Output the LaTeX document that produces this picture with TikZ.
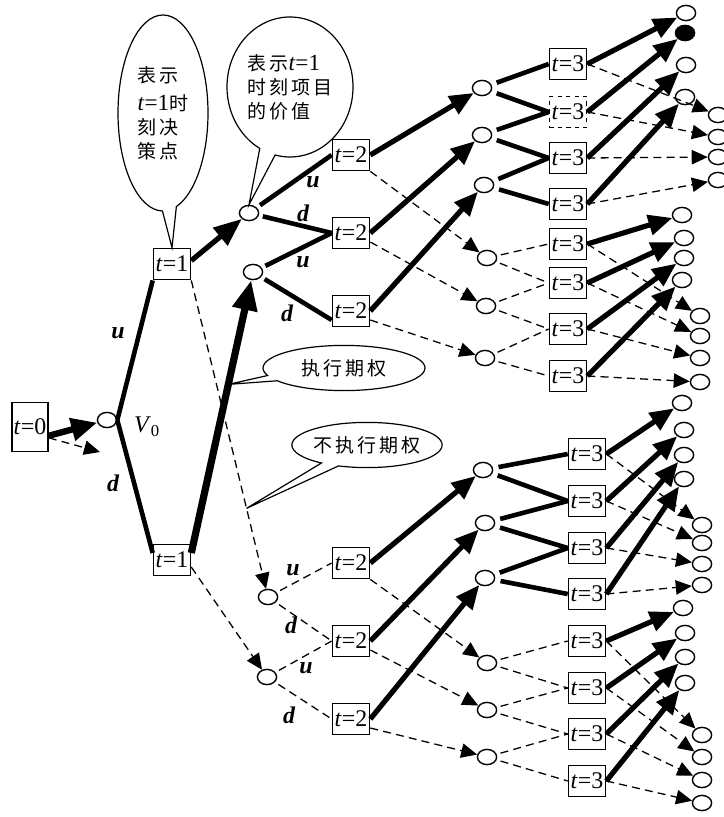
\documentclass[tikz,border=0pt]{standalone}
\usepackage{fontspec}
\setmainfont{Liberation Serif}
\newfontfamily\cjk[LetterSpace=15]{Noto Sans CJK SC}
\usetikzlibrary{shapes.geometric, shapes.callouts, arrows.meta, calc}
\newcommand{\tval}[1]{\textit{t}=#1}
\newcommand{\btval}[1]{{\fontsize{16.5}{17}\selectfont\tval{#1}}}

\begin{document}
\begin{tikzpicture}[x=0.25mm, y=-0.25mm, >=Stealth]
    \tikzset{
        tbox/.style={draw, line width=0.4mm, minimum width=9.25mm, minimum height=7.8mm, inner sep=0pt, font=\fontsize{17}{20}\selectfont},
        dot/.style={draw, ellipse, line width=0.35mm, minimum width=4.8mm, minimum height=3.8mm, inner sep=0pt},
        lab/.style={inner sep=0pt, font=\fontsize{17}{20}\selectfont\bfseries\itshape},
        thk/.style={line width=1.15mm},
        thkarr/.style={line width=1.3mm, -{Triangle[length=6mm, width=5mm]}},
        bigarr/.style={line width=1.8mm, -{Triangle[length=7.5mm, width=6mm]}},
        dline/.style={line width=0.32mm, dash pattern=on 2mm off 1.3mm},
        darr/.style={dline, -{Triangle[length=4mm, width=3.6mm]}},
        bubble/.style={ellipse callout, draw, line width=0.3mm, inner sep=0pt, align=left, font=\fontsize{13.5}{17}\selectfont},
    }
    \useasboundingbox (0,0) rectangle (723,817);

    % t=0 and t=1
    \node[tbox, minimum width=9mm, minimum height=12.2mm] (t0) at (30,427) {\tval{0}};
    \node[dot] (v0) at (107,420) {};
    \coordinate (v0x) at (100,452);
    \node[tbox] (t1u) at (172,264) {\tval{1}};
    \node[tbox] (t1d) at (172,560) {\tval{1}};
    \node[lab] (lu1) at (118,333) {u};
    \node[lab] (ld1) at (113,483) {d};
    \node[inner sep=0pt, font=\fontsize{17}{20}\selectfont] (lv0) at (147,427) {\textit{V}\textsubscript{0}};

    \draw[line width=1.6mm, -{Triangle[length=6.5mm, width=5.5mm]}] (t0.-25) -- (v0);
    \draw[darr] (t0.-30) -- (v0x);
    \draw[thk] (v0.east) -- (t1u.south west);
    \draw[thk] (v0.east) -- (t1d.160);

    % level 1 values
    \node[dot] (s1) at (249,213) {};
    \node[dot] (s2) at (253,272) {};
    \node[dot] (s3) at (268,597) {};
    \node[dot] (s4) at (267,677) {};
    \draw[thkarr, -{Triangle[length=7mm, width=5.5mm]}] (t1u.10) -- (s1);
    \draw[darr] (t1u.south east) -- (s3);
    \draw[bigarr] (t1d.20) -- (s2);
    \draw[darr] (t1d.-20) -- (s4);

    % t=2
    \node[tbox] (m1) at (351,155) {\tval{2}};
    \node[tbox] (m2) at (351,233) {\tval{2}};
    \node[tbox] (m3) at (351,311) {\tval{2}};
    \node[tbox] (m4) at (351,563) {\tval{2}};
    \node[tbox] (m5) at (351,641) {\tval{2}};
    \node[tbox] (m6) at (351,719) {\tval{2}};
    \draw[thk, shorten <=1mm] (s1) -- (m1.west);
    \draw[thk, shorten <=1mm] (s1) -- (m2.west);
    \draw[thk, shorten <=1mm] (s2) -- (m2.west);
    \draw[thk, shorten <=1mm] (s2) -- (m3.205);
    \draw[dline, shorten <=1mm] (s3) -- (m4.west);
    \draw[dline, shorten <=1mm] (s3) -- (m5.west);
    \draw[dline, shorten <=1mm] (s4) -- (m5.west);
    \draw[dline, shorten <=1mm] (s4) -- (m6.west);
    \node[lab] (lu2) at (313,182) {u};
    \node[lab] (ld2) at (303,213) {d};
    \node[lab] (lu3) at (303,262) {u};
    \node[lab] (ld3) at (287,313) {d};
    \node[lab] (lu4) at (293,570) {u};
    \node[lab] (ld4) at (291,625) {d};
    \node[lab] (lu5) at (306,668) {u};
    \node[lab] (ld5) at (289,715) {d};

    % level 2 values
    \node[dot] (c1) at (482,88) {};
    \node[dot] (c2) at (482,135) {};
    \node[dot] (c3) at (484,185) {};
    \node[dot] (c4) at (487,258) {};
    \node[dot] (c5) at (486,306) {};
    \node[dot] (c6) at (485,358) {};
    \node[dot] (c7) at (483,470) {};
    \node[dot] (c8) at (485,523) {};
    \node[dot] (c9) at (485,578) {};
    \node[dot] (c10) at (487,663) {};
    \node[dot] (c11) at (487,710) {};
    \node[dot] (c12) at (487,757) {};
    \draw[thkarr] (m1.east) -- (c1);
    \draw[darr] (m1.south east) -- (c4);
    \draw[thkarr] (m2.east) -- (c2);
    \draw[darr] (m2.-25) -- (c5);
    \draw[thkarr] (m3.east) -- (c3);
    \draw[darr] (m3.-25) -- (c6);
    \draw[thkarr] (m4.east) -- (c7);
    \draw[darr] (m4.south east) -- (c10);
    \draw[thkarr] (m5.east) -- (c8);
    \draw[darr] (m5.-25) -- (c11);
    \draw[thkarr] (m6.east) -- (c9);
    \draw[darr] (m6.-25) -- (c12);

    % t=3
    \node[tbox] (k1) at (568,64) {\tval{3}};
    \node[tbox, dashed] (k2) at (568,112) {\tval{3}};
    \node[tbox] (k3) at (568,158) {\tval{3}};
    \node[tbox] (k4) at (568,204) {\tval{3}};
    \node[tbox] (k5) at (568,244) {\tval{3}};
    \node[tbox] (k6) at (568,283) {\tval{3}};
    \node[tbox] (k7) at (568,329) {\tval{3}};
    \node[tbox] (k8) at (568,376) {\tval{3}};
    \node[tbox] (k9) at (587,454) {\tval{3}};
    \node[tbox] (k10) at (587,501) {\tval{3}};
    \node[tbox] (k11) at (587,548) {\tval{3}};
    \node[tbox] (k12) at (587,594) {\tval{3}};
    \node[tbox] (k13) at (587,641) {\tval{3}};
    \node[tbox] (k14) at (587,688) {\tval{3}};
    \node[tbox] (k15) at (587,734) {\tval{3}};
    \node[tbox] (k16) at (587,781) {\tval{3}};
    \draw[thk, shorten <=1.4mm] (c1) -- (k1.west);
    \draw[thk, shorten <=1.4mm] (c1) -- (k2.west);
    \draw[thk, shorten <=1.4mm] (c2) -- (k2.west);
    \draw[thk, shorten <=1.4mm] (c2) -- (k3.west);
    \draw[thk, shorten <=1.4mm] (c3) -- (k3.west);
    \draw[thk, shorten <=1.4mm] (c3) -- (k4.west);
    \draw[dline, shorten <=1mm] (c4) -- (k5.west);
    \draw[dline, shorten <=1mm] (c4) -- (k6.west);
    \draw[dline, shorten <=1mm] (c5) -- (k6.west);
    \draw[dline, shorten <=1mm] (c5) -- (k7.west);
    \draw[dline, shorten <=1mm] (c6) -- (k7.west);
    \draw[dline, shorten <=1mm] (c6) -- (k8.west);
    \draw[thk, shorten <=1.4mm] (c7) -- (k9.west);
    \draw[thk, shorten <=1.4mm] (c7) -- (k10.west);
    \draw[thk, shorten <=1.4mm] (c8) -- (k10.west);
    \draw[thk, shorten <=1.4mm] (c8) -- (k11.west);
    \draw[thk, shorten <=1.4mm] (c9) -- (k11.west);
    \draw[thk, shorten <=1.4mm] (c9) -- (k12.west);
    \draw[dline, shorten <=1mm] (c10) -- (k13.west);
    \draw[dline, shorten <=1mm] (c10) -- (k14.west);
    \draw[dline, shorten <=1mm] (c11) -- (k14.west);
    \draw[dline, shorten <=1mm] (c11) -- (k15.west);
    \draw[dline, shorten <=1mm] (c12) -- (k15.west);
    \draw[dline, shorten <=1mm] (c12) -- (k16.west);

    % final values
    \node[dot] (a1) at (686,13) {};
    \node[dot, fill=black] (a2) at (685,33) {};
    \node[dot] (a3) at (686,65) {};
    \node[dot] (a4) at (685,97) {};
    \node[dot] (a5) at (682,215) {};
    \node[dot] (a6) at (684,238) {};
    \node[dot] (a7) at (684,258) {};
    \node[dot] (a8) at (682,280) {};
    \node[dot] (a9) at (682,403) {};
    \node[dot] (a10) at (684,430) {};
    \node[dot] (a11) at (684,455) {};
    \node[dot] (a12) at (684,479) {};
    \node[dot] (a13) at (683,608) {};
    \node[dot] (a14) at (685,633) {};
    \node[dot] (a15) at (685,657) {};
    \node[dot] (a16) at (685,683) {};
    \node[dot] (b1) at (718,115) {};
    \node[dot] (b2) at (718,137) {};
    \node[dot] (b3) at (718,157) {};
    \node[dot] (b4) at (718,180) {};
    \node[dot] (b5) at (700,316) {};
    \node[dot] (b6) at (700,336) {};
    \node[dot] (b7) at (700,358) {};
    \node[dot] (b8) at (700,382) {};
    \node[dot] (b9) at (702,525) {};
    \node[dot] (b10) at (702,543) {};
    \node[dot] (b11) at (702,564) {};
    \node[dot] (b12) at (702,585) {};
    \node[dot] (b13) at (702,735) {};
    \node[dot] (b14) at (702,757) {};
    \node[dot] (b15) at (702,780) {};
    \node[dot] (b16) at (702,803) {};
    \draw[thkarr] (k1.east) -- (a1);   \draw[darr] (k1.east) -- (b1);
    \draw[thkarr] (k2.east) -- (a2);   \draw[darr] (k2.east) -- (b2);
    \draw[thkarr] (k3.east) -- (a3);   \draw[darr] (k3.east) -- (b3);
    \draw[thkarr] (k4.east) -- (a4);   \draw[darr] (k4.east) -- (b4);
    \draw[thkarr] (k5.east) -- (a5);   \draw[darr] (k5.east) -- (b5);
    \draw[thkarr] (k6.east) -- (a6);   \draw[darr] (k6.east) -- (b6);
    \draw[thkarr] (k7.east) -- (a7);   \draw[darr] (k7.east) -- (b7);
    \draw[thkarr] (k8.east) -- (a8);   \draw[darr] (k8.east) -- (b8);
    \draw[thkarr] (k9.east) -- (a9);   \draw[darr] (k9.east) -- (b9);
    \draw[thkarr] (k10.east) -- (a10); \draw[darr] (k10.east) -- (b10);
    \draw[thkarr] (k11.east) -- (a11); \draw[darr] (k11.east) -- (b11);
    \draw[thkarr] (k12.east) -- (a12); \draw[darr] (k12.east) -- (b12);
    \draw[thkarr] (k13.east) -- (a13); \draw[darr] (k13.east) -- (b13);
    \draw[thkarr] (k14.east) -- (a14); \draw[darr] (k14.east) -- (b14);
    \draw[thkarr] (k15.east) -- (a15); \draw[darr] (k15.east) -- (b15);
    \draw[thkarr] (k16.east) -- (a16); \draw[darr] (k16.east) -- (b16);

    % callouts
    \coordinate (p1) at ($(t1d.20)!0.6!(s2)$);
    \coordinate (p2) at ($(t1u.south east)!0.72!(s3)$);
    \node[bubble, minimum width=22.5mm, minimum height=49mm, callout pointer arc=18,
          callout absolute pointer={(t1u.north)}] (cb1) at (163,113)
          {{\cjk 表示}\\[3pt] \btval{1}{\cjk 时}\\ {\cjk 刻决}\\ {\cjk 策点}};
    \node[bubble, minimum width=31.5mm, minimum height=35mm,
          callout absolute pointer={(s1.north)}] (cb2) at (290,87)
          {{\cjk 表示}\btval{1}\\ {\cjk 时刻项目}\\ {\cjk 的价值}};
    \node[bubble, minimum width=40.5mm, minimum height=11.3mm,
          callout absolute pointer={(p1)}] (cb3) at (344,368) {\cjk 执行期权};
    \node[bubble, minimum width=37.5mm, minimum height=11.3mm,
          callout absolute pointer={(p2)}] (cb4) at (367,445) {\cjk 不执行期权};
\end{tikzpicture}
\end{document}
